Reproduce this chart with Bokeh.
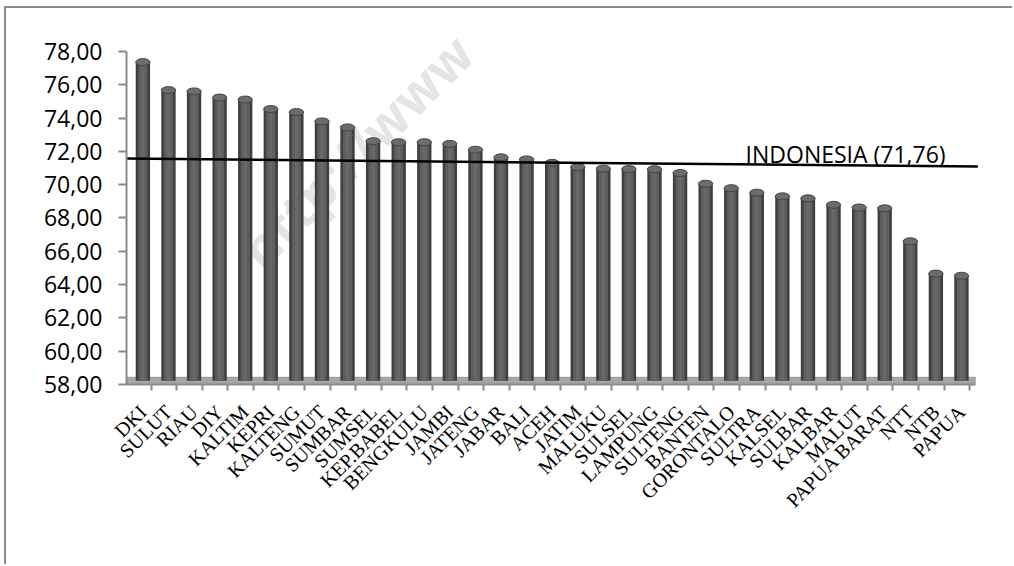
import math
from bokeh.plotting import figure
from bokeh.models import (Range1d, FixedTicker, CustomJSTickFormatter, BoxAnnotation,
                          Label, ColumnDataSource)
from bokeh.embed import file_html
from bokeh.resources import INLINE

# ---- data ----
provinces = ["DKI", "SULUT", "RIAU", "DIY", "KALTIM", "KEPRI", "KALTENG", "SUMUT",
             "SUMBAR", "SUMSEL", "KEP.BABEL", "BENGKULU", "JAMBI", "JATENG", "JABAR",
             "BALI", "ACEH", "JATIM", "MALUKU", "SULSEL", "LAMPUNG", "SULTENG", "BANTEN",
             "GORONTALO", "SULTRA", "KALSEL", "SULBAR", "KALBAR", "MALUT", "PAPUA BARAT",
             "NTT", "NTB", "PAPUA"]
ipm = [77.36, 75.68, 75.60, 75.23, 75.11, 74.54, 74.36, 73.80,
       73.44, 72.61, 72.55, 72.55, 72.45, 72.10, 71.64,
       71.52, 71.31, 71.06, 70.96, 70.94, 70.93, 70.70, 70.06,
       69.79, 69.52, 69.30, 69.18, 68.79, 68.63, 68.58,
       66.60, 64.66, 64.53]
y_ticks = [58, 60, 62, 64, 66, 68, 70, 72, 74, 76, 78]
indonesia_value = 71.76
indonesia_label = "INDONESIA (71,76)"
indonesia_line_ends = [71.57, 71.09]   # drawn line, read at its left and right ends
watermark = "http://www"

n = len(provinces)
xs = list(range(1, n + 1))
src = ColumnDataSource(dict(x=xs, top=ipm, name=provinces))

p = figure(width=1008, height=558,
           x_range=Range1d(0.359, 33.94), y_range=Range1d(58, 80.58),
           output_backend="svg", toolbar_location=None,
           min_border_left=120, min_border_right=29,
           min_border_top=0, min_border_bottom=182,
           margin=(6, 0, 0, 4),
           styles={"border-top": "2px solid #8c8c8c", "border-left": "2px solid #8c8c8c"})
p.outline_line_color = None
p.xgrid.visible = False
p.ygrid.visible = False
p.background_fill_color = "white"
p.border_fill_color = "white"

# watermark
p.add_layout(Label(x=6.1, y=64.1, text=watermark, angle=math.radians(45),
                   text_color="#e4e4e4", text_font="Open Sans", text_font_size="52px",
                   text_font_style="bold", level="underlay"))

# 3D floor
p.add_layout(BoxAnnotation(left=0.32, right=33.55, bottom=58, top=58.45,
                           fill_color="#a6a6a6", fill_alpha=1.0,
                           line_color="#7c7c7c", line_width=1, level="underlay"))

# cylinders
p.vbar(x="x", top="top", bottom=58.22, width=0.56, source=src,
       fill_color="#3f3f3f", line_color=None)
p.vbar(x="x", top="top", bottom=58.22, width=0.36, source=src,
       fill_color="#5e5e5e", line_color=None)
p.vbar(x="x", top="top", bottom=58.22, width=0.14, source=src,
       fill_color="#686868", line_color=None)
p.ellipse(x="x", y="top", width=0.56, height=7, height_units="screen", source=src,
          fill_color="#6c6c6c", line_color="#444444", line_width=1)

# national line + label
p.line(x=[0.1, 33.64], y=indonesia_line_ends, line_color="black", line_width=2.5)
p.add_layout(Label(x=24.56, y=71.87, text=indonesia_label, text_font="Open Sans",
                   text_font_size="23px", text_color="black", text_baseline="alphabetic"))

# y axis
ya = p.yaxis[0]
ya.ticker = FixedTicker(ticks=y_ticks, minor_ticks=[])
ya.bounds = (58, 78)
ya.formatter = CustomJSTickFormatter(code="return tick.toFixed(2).replace('.', ',')")
ya.axis_line_color = "#8a8a8a"
ya.axis_line_width = 2
ya.major_tick_line_color = "#8a8a8a"
ya.major_tick_line_width = 2
ya.major_tick_out = 8
ya.major_tick_in = 0
ya.major_label_standoff = 16
ya.major_label_text_font = "Open Sans"
ya.major_label_text_font_size = "23px"
ya.major_label_text_color = "black"

# x axis
xa = p.xaxis[0]
xa.ticker = FixedTicker(ticks=xs, minor_ticks=[i - 0.68 for i in range(1, n + 2)])
xa.bounds = (0.32, 33.55)
xa.formatter = CustomJSTickFormatter(args=dict(names=provinces),
                                     code="return names[Math.round(tick) - 1] || '';")
xa.axis_line_color = "#8a8a8a"
xa.axis_line_width = 2
xa.major_tick_out = 0
xa.major_tick_in = 0
xa.minor_tick_out = 6
xa.minor_tick_in = 0
xa.minor_tick_line_color = "#8a8a8a"
xa.minor_tick_line_width = 2
xa.major_label_orientation = math.pi / 4
xa.major_label_standoff = 18
xa.major_label_text_font = "Liberation Serif"
xa.major_label_text_font_size = "20px"
xa.major_label_text_color = "black"

open("out.html", "w").write(file_html(p, INLINE))
